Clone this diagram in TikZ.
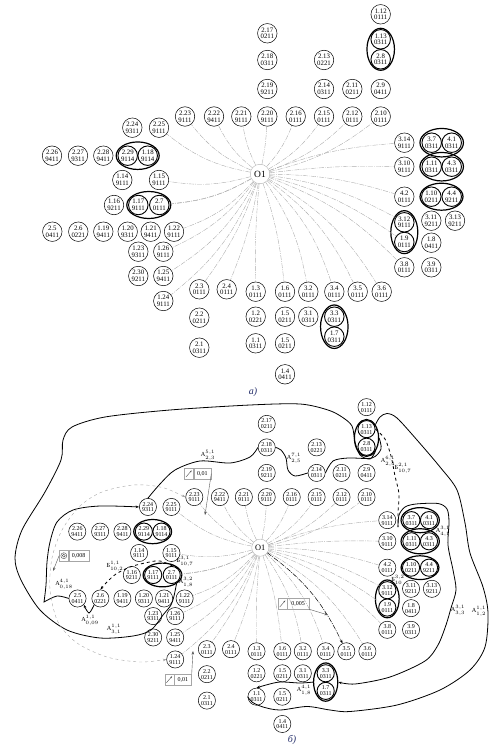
\documentclass[tikz,border=0pt]{standalone}
\usepackage{fontspec}
\setmainfont{Liberation Serif}
\usetikzlibrary{positioning,shapes.geometric,calc,arrows.meta}
\definecolor{capblue}{RGB}{35,45,105}
\newcommand{\ann}[3]{#1$^{#2}_{#3}$}

\tikzset{
  >={Stealth[length=3.6pt,width=2.6pt]},
  cell/.style={circle,draw,inner sep=0pt,minimum size=19.5pt,align=center,
    font=\fontsize{6.8}{6.6}\selectfont},
  grp/.style={ellipse,draw,line width=1.2pt,inner sep=0pt},
  hub/.style={circle,draw=gray!60,fill=white,inner sep=0pt,minimum size=19.5pt,
    font=\fontsize{9.5}{9.5}\selectfont},
  fan/.style={gray!65,line width=0.4pt,dash pattern=on 5pt off 1.2pt on 0.8pt off 1.2pt},
  route/.style={line width=0.8pt},
  tolsym/.style={draw=gray!70,inner sep=0pt,minimum width=9pt,minimum height=10.5pt},
  tolval/.style={draw=gray!70,inner sep=0pt,minimum height=10.5pt,font=\fontsize{6}{6}\selectfont},
  ann/.style={font=\fontsize{6.2}{6.2}\selectfont,inner sep=0pt},
  capt/.style={font=\fontsize{10}{10}\selectfont\itshape,text=capblue}
}

% one copy of the cell layout, #1 = prefix of the node names
\newcommand{\cellgrid}[1]{%
  \foreach \nm/\lb/\x/\y/\cd/\lw in {
    2-17/2.17/267.3/33.3/0211/0.5pt, 2-18/2.18/267.3/60/0311/0.5pt,
    2-19/2.19/267.3/89/9211/0.5pt, 2-20/2.20/267.3/116.5/9111/0.5pt,
    2-13/2.13/324/60/0221/0.5pt, 2-14/2.14/324/89/0311/0.5pt,
    2-15/2.15/324/116.5/0111/0.5pt, 2-16/2.16/295.7/116.5/0111/0.5pt,
    2-11/2.11/352.3/89/0211/0.5pt, 2-12/2.12/352.3/116.5/0111/0.5pt,
    1-12/1.12/380.7/14.3/0111/0.5pt, 1-13/1.13/380.7/39.3/0311/0.9pt,
    2-8/2.8/380.7/59.3/0311/0.9pt, 2-9/2.9/380.7/89/0411/0.5pt,
    2-10/2.10/380.7/116.5/0111/0.5pt, 2-21/2.21/241.3/116.5/9111/0.5pt,
    2-22/2.22/214/116.5/9411/0.5pt, 2-23/2.23/185/116.5/9111/0.5pt,
    2-24/2.24/132.3/127.7/9311/0.5pt, 2-25/2.25/159/127.7/9111/0.5pt,
    2-26/2.26/52/155.7/9411/0.5pt, 2-27/2.27/78/155.7/9311/0.5pt,
    2-28/2.28/103.3/155.7/9411/0.5pt, 2-29/2.29/127.7/155.7/9114/0.9pt,
    1-18/1.18/147.7/155.7/9114/0.9pt, 1-14/1.14/122.3/180/9111/0.5pt,
    1-15/1.15/159/180/9111/0.5pt, 1-16/1.16/114/205/9211/0.5pt,
    1-17/1.17/138.3/205/9111/0.9pt, 2-7/2.7/159.3/205/0111/0.9pt,
    2-5/2.5/52.3/231.7/0411/0.5pt, 2-6/2.6/78.3/231.7/0221/0.5pt,
    1-19/1.19/103.3/231.7/9411/0.5pt, 1-20/1.20/127.7/231.7/9311/0.5pt,
    1-21/1.21/150.7/231.7/9411/0.5pt, 1-22/1.22/174/231.7/9111/0.5pt,
    1-23/1.23/138.3/251.7/9311/0.5pt, 1-26/1.26/163.3/251.7/9111/0.5pt,
    2-30/2.30/138.3/276/9211/0.5pt, 1-25/1.25/163.3/276/9411/0.5pt,
    1-24/1.24/163.3/301/9111/0.5pt, 2-3/2.3/199.3/289.3/0111/0.5pt,
    2-4/2.4/226.7/289.3/0111/0.5pt, 2-2/2.2/199.3/317.7/0211/0.5pt,
    2-1/2.1/199.3/347.7/0311/0.5pt, 3-14/3.14/404.3/142.7/9111/0.5pt,
    3-7/3.7/431.7/142.7/0311/0.9pt, 4-1/4.1/451.7/142.7/0311/0.9pt,
    3-10/3.10/404.3/166.7/9111/0.5pt, 1-11/1.11/431.7/166.7/0311/0.9pt,
    4-3/4.3/451.7/166.7/0311/0.9pt, 4-2/4.2/404.3/196.7/0111/0.5pt,
    1-10/1.10/431.3/196.7/0211/0.9pt, 4-4/4.4/451.7/196.7/9211/0.9pt,
    3-12/3.12/404.3/222.3/9111/0.9pt, 1-9/1.9/404.3/242/0111/0.9pt,
    3-11/3.11/431.3/220.7/9211/0.5pt, 3-13/3.13/455/220.7/9211/0.5pt,
    1-8/1.8/431.3/242.7/0411/0.5pt, 3-8/3.8/404.3/267.3/0111/0.5pt,
    3-9/3.9/431.3/267.3/0311/0.5pt, 1-3/1.3/255.7/291.7/0111/0.5pt,
    1-6/1.6/285/291.7/0111/0.5pt, 3-2/3.2/308.3/291.7/0111/0.5pt,
    3-4/3.4/334.3/291.7/0111/0.5pt, 3-5/3.5/357.7/291.7/0111/0.5pt,
    3-6/3.6/381.7/291.7/0111/0.5pt, 1-2/1.2/255.7/316.7/0221/0.5pt,
    1-5/1.5/285/316.7/0211/0.5pt, 3-1/3.1/308.3/316.7/0311/0.5pt,
    3-3/3.3/334.3/316.7/0311/0.9pt, 1-7/1.7/334.3/336.7/0311/0.9pt,
    1-1/1.1/255.7/343.3/0311/0.5pt, 1-5b/1.5/285/343.3/0211/0.5pt,
    1-4/1.4/285/374.3/0411/0.5pt}
    \node[cell,line width=\lw] (#1-\nm) at (\x,\y) {\lb\\\cd};
  % pairs in one group
  \foreach \gn/\pa/\pb/\ew/\eh in {e1/2-29/1-18/43/27.5, e2/1-13/2-8/27.5/42,
    e3/3-7/4-1/43.5/28.5, e4/1-11/4-3/43.5/28.5, e5/1-10/4-4/43/27,
    e6/3-12/1-9/27/43, e7/3-3/1-7/27.5/43.5, e8/1-17/2-7/44/27}
    \node[grp,minimum width=\ew pt,minimum height=\eh pt] (#1-\gn) at ($(#1-\pa)!.5!(#1-\pb)$) {};
  \node[hub] (#1-o1) at (260,174) {O1};
  \foreach \tg/\bd in {2-25/14, 2-23/14, 2-22/12, 2-21/8, 2-20/-4, 2-16/-10,
    2-15/-12, 2-12/-12, 2-10/-12, 3-14/8, 3-10/4, 4-2/8, 3-12/10, 1-9/10,
    3-8/12, 3-6/14, 3-5/14, 3-4/14, 3-2/12, 1-6/6, 1-3/-3, 2-4/6, 2-3/8,
    1-24/14, 1-25/14, 1-26/14, 1-22/14, e8/12, 2-7/12, 1-15/12}
    \draw[fan] (#1-o1) to[bend left=\bd] (#1-\tg);
}

\begin{document}
\begin{tikzpicture}[x=1pt,y=-1pt]
\useasboundingbox (0,0) rectangle (495,746);
% a)
\cellgrid{a}
\node[capt] (cap-a) at (253,392) {а)};

% b)
\begin{scope}[shift={(260.3,547.7)},scale=0.88,transform shape,shift={(-260,-174)}]
\cellgrid{b}
\end{scope}
\node[capt] (cap-b) at (292,740) {б)};

\draw[fan,black,->] (b-o1) to[bend left=14] (b-3-5);

% routes
\draw[route] plot[smooth] coordinates {(b-2-24.north) (160,484) (175,470) (200,461) (230,463) (250,457) (b-2-18.west)};
\draw[route] plot[smooth] coordinates {(b-2-18.east) (281,450) (286,458) (288,470) (295,476) (b-2-14.west)};
\draw[route] plot[smooth] coordinates {(b-2-14.east) (333,461) (348,458) (372,458) (381,449) (b-e2.east)};
\draw[route] plot[smooth] coordinates {(b-e2.south east) (370,459) (360,455) (355,442) (352,426) (342,417)
  (328,410) (300,404) (250,405) (170,410) (105,417) (72,427) (63,440) (61,460) (45,492) (22,530)
  (15,558) (21,580) (40,610) (67,630) (100,638) (133,636) (151,630) (163,615) (171,605) (174,596)
  (b-e8.south east)};
\draw[route,->] plot[smooth] coordinates {(b-2-5.west) (57,596) (44,602)}
  -- plot[smooth] coordinates {(44,602) (46,585) (47,562) (50,542) (57,522) (73,510) (100,506) (b-2-24.west)};
\draw[route,->] plot[smooth] coordinates {(b-2-6.south west) (89,613) (b-2-5.south east)};
\draw[route,dashed,->] plot[smooth] coordinates {(b-2-7.north east) (160,561) (145,563) (130,567)
  (116,574) (106,583) (b-2-6.north)};
\draw[gray!70,dashed,<->] plot[smooth] coordinates {(b-2-23.west) (160,487) (133,485) (102,492)
  (80,506) (62,530) (52,558) (50,590) (58,622) (77,643) (107,657) (140,662) (b-1-24.west)};
\coordinate (b-j) at (398,527);
\draw[route,dashed] plot[smooth] coordinates {(b-1-13.east) (385,439) (391,456) (395,476) (399,494)
  (398,512) (b-j)};
\draw[route,->] plot[smooth] coordinates {(b-j) (399,515) (405,507) (416,504) (438,503.5) (447,509)
  (449,522) (448,545) (453,570) (456,590) (451,608) (446,625) (438,645) (425,661) (390,677)
  (355,684) (b-e7.east)};
\draw[route] plot[smooth] coordinates {(b-e2.north east) (380,417) (387,413.5) (397,418) (417,440)
  (440,467) (457,490) (465,523) (470,553) (483,587) (488,613) (485,647) (470,670) (440,690)
  (397,705) (350,711.5) (330,710) (307,706.5) (280,710) (263,707) (252,702) (b-1-1.west)};
\draw[route,->] plot[smooth] coordinates {(b-e7.west) (300,683) (280,682) (266,685) (b-1-1.north)};

% labels of the routes
\node[ann] (l1) at (208,455) {\ann{A}{5,1}{2,3}};
\node[ann] (l2) at (294,458) {\ann{A}{7,1}{2,5}};
\node[ann] (l3) at (388,461) {\ann{A}{6,1}{2,4}};
\node[ann] (l4) at (403,468) {\ann{Б}{2,1}{10,7}};
\node[ann] (l5) at (443,531) {\ann{A}{3,1}{4,1}};
\node[ann] (l6) at (458,610) {\ann{A}{3,1}{3,3}};
\node[ann] (l7) at (479,611) {\ann{A}{1,1}{1,2}};
\node[ann] (l8) at (398,580) {\ann{Б}{3,2}{10}};
\node[ann] (l9) at (304,690) {\ann{A}{4,1}{1,8}};
\node[ann] (l10) at (114,629) {\ann{A}{1,1}{3,1}};
\node[ann] (l11) at (90,620) {\ann{A}{1,1}{0,09}};
\node[ann] (l12) at (64,584) {\ann{A}{4,1}{0,18}};
\node[ann] (l13) at (115,566) {\ann{Б}{1,1}{10,2}};
\node[ann] (l14) at (185,561) {\ann{Б}{3,1}{10,7}};
\node[ann] (l15) at (186,582) {\ann{A}{3,2}{1,8}};

% tolerance frames
\node[tolsym] (b-t1) at (188.8,473.7) {};
\node[tolval,minimum width=17.4pt,right=0pt of b-t1] (b-t1v) {0,01};
\node[tolsym] (b-t2) at (63.8,555.7) {};
\node[tolval,minimum width=20pt,right=0pt of b-t2] (b-t2v) {0,008};
\node[tolsym] (b-t3) at (282.5,603.8) {};
\node[tolval,minimum width=21.6pt,right=0pt of b-t3] (b-t3v) {0,005};
\node[tolsym] (b-t4) at (169.2,679.5) {};
\node[tolval,minimum width=17.4pt,right=0pt of b-t4] (b-t4v) {0,01};
\foreach \tf in {b-t1,b-t3,b-t4}
  \draw[gray!60!black,-{Stealth[length=2pt,width=1.6pt]}] ($(\tf.south west)!.2!(\tf.north east)$) -- ($(\tf.south west)!.8!(\tf.north east)$);
\draw[gray!60!black] (b-t2.center) circle (3pt) (b-t2.center) circle (1.5pt);
\coordinate (b-p1) at (205,515);
\coordinate (b-p2) at (53,571);
\coordinate (b-p3) at (328,615);
\coordinate (b-p4) at (193,651);
\draw[gray!70!black,->] (b-t1v.east) -- (b-p1);
\draw[gray!70!black,->] (b-t2.west) -- (b-p2);
\draw[gray!70!black,->] (b-t3v.south east) -- (b-p3);
\draw[gray!70!black,->] (b-t4v.north east) -- (b-p4);
\end{tikzpicture}
\end{document}
